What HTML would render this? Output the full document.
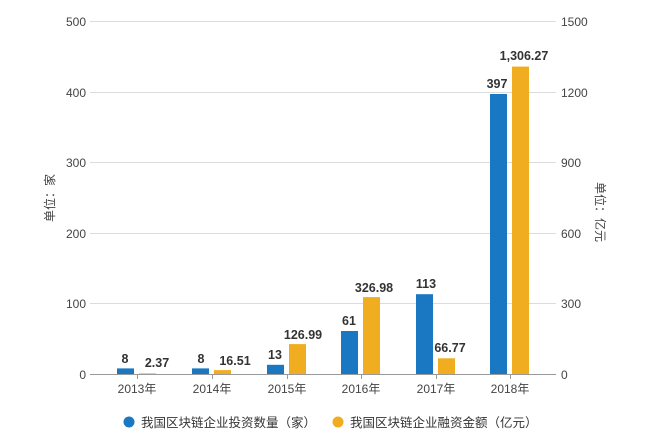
<!DOCTYPE html>
<html><head><meta charset="utf-8"><style>
html,body{margin:0;padding:0;background:#fff;}
svg{display:block;font-family:"Liberation Sans","Noto Sans CJK SC",sans-serif;}
.ax{font-size:12px;fill:#444;}
.vl{font-size:12.5px;font-weight:bold;fill:#333;text-anchor:middle;}
</style></head><body>
<svg width="648" height="435" viewBox="0 0 648 435">
<g stroke="#dcdcdc" stroke-width="1">
<line x1="90" y1="21.5" x2="556" y2="21.5"/>
<line x1="90" y1="92.5" x2="556" y2="92.5"/>
<line x1="90" y1="162.5" x2="556" y2="162.5"/>
<line x1="90" y1="233.5" x2="556" y2="233.5"/>
<line x1="90" y1="303.5" x2="556" y2="303.5"/>
</g>
<line x1="90" y1="374.5" x2="556" y2="374.5" stroke="#999"/>
<g stroke="#999">
<line x1="137.5" y1="374" x2="137.5" y2="379"/>
<line x1="212.5" y1="374" x2="212.5" y2="379"/>
<line x1="287.5" y1="374" x2="287.5" y2="379"/>
<line x1="361.5" y1="374" x2="361.5" y2="379"/>
<line x1="436.5" y1="374" x2="436.5" y2="379"/>
<line x1="510.5" y1="374" x2="510.5" y2="379"/>
</g>
<g class="ax" text-anchor="end">
<text x="86" y="26">500</text><text x="86" y="97">400</text><text x="86" y="167">300</text>
<text x="86" y="238">200</text><text x="86" y="308">100</text><text x="86" y="379">0</text>
</g>
<g class="ax" text-anchor="start">
<text x="561" y="26">1500</text><text x="561" y="97">1200</text><text x="561" y="167">900</text>
<text x="561" y="238">600</text><text x="561" y="308">300</text><text x="561" y="379">0</text>
</g>
<text class="ax" transform="translate(54,198) rotate(-90)" text-anchor="middle">单位：家</text>
<text class="ax" transform="translate(596,212) rotate(90)" text-anchor="middle">单位：亿元</text>
<g class="ax" text-anchor="middle">
<text x="137" y="393">2013年</text><text x="212" y="393">2014年</text><text x="287" y="393">2015年</text>
<text x="361" y="393">2016年</text><text x="436" y="393">2017年</text><text x="510" y="393">2018年</text>
</g>
<g fill="#1a78c2">
<rect x="117" y="368.4" width="17" height="5.6"/>
<rect x="192" y="368.4" width="17" height="5.6"/>
<rect x="267" y="364.8" width="17" height="9.2"/>
<rect x="341" y="331" width="17" height="43"/>
<rect x="416" y="294.2" width="17" height="79.8"/>
<rect x="490" y="94" width="17" height="280"/>
</g>
<g fill="#f0ad1f">
<rect x="139" y="373.4" width="17" height="0.6"/>
<rect x="214" y="370.1" width="17" height="3.9"/>
<rect x="289" y="344.1" width="17" height="29.9"/>
<rect x="363" y="297.1" width="17" height="76.9"/>
<rect x="438" y="358.3" width="17" height="15.7"/>
<rect x="512" y="66.6" width="17" height="307.4"/>
</g>
<g class="vl">
<text x="125" y="363">8</text><text x="157" y="367">2.37</text>
<text x="201" y="363">8</text><text x="235" y="365">16.51</text>
<text x="275" y="359">13</text><text x="303" y="339">126.99</text>
<text x="349" y="325">61</text><text x="374" y="292">326.98</text>
<text x="426" y="288">113</text><text x="450" y="352">66.77</text>
<text x="497" y="88">397</text><text x="524" y="60">1,306.27</text>
</g>
<circle cx="129" cy="422" r="5.5" fill="#1a78c2"/>
<text x="141" y="427" font-size="12.5" fill="#333">我国区块链企业投资数量（家）</text>
<circle cx="338" cy="422" r="5.5" fill="#f0ad1f"/>
<text x="350" y="427" font-size="12.5" fill="#333">我国区块链企业融资金额（亿元）</text>
</svg>
</body></html>
